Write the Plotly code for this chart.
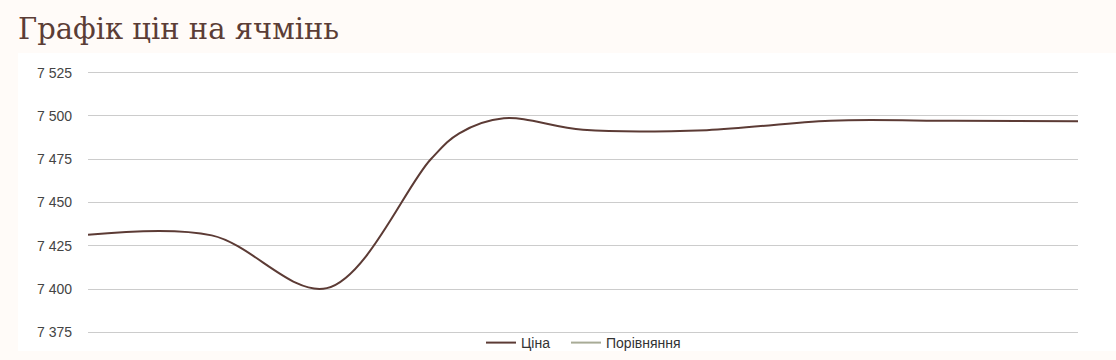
import plotly.graph_objects as go

# Data: price (x = time position, unitless)
x_steps = [0, 1, 1.93, 2.77, 3.0, 3.36, 4, 5, 6, 7, 8]
price = [7431.3, 7431.0, 7400.5, 7475, 7490, 7498.7, 7492, 7491.8, 7497.3, 7497.2, 7497]
compare = [None] * len(x_steps)
y_ticks = [7375, 7400, 7425, 7450, 7475, 7500, 7525]

title_text = "Графік цін на ячмінь"
series_names = ["Ціна", "Порівняння"]

W, H = 1116, 360
L, R, T, B = 88, 38, 71, 26
pw = W - L - R
ph = H - T - B

fig = go.Figure()
fig.add_trace(go.Scatter(
    x=x_steps, y=price, mode="lines", name=series_names[0],
    line=dict(color="#5C3B35", width=2, shape="spline", smoothing=1.0),
    legend="legend",
))
fig.add_trace(go.Scatter(
    x=x_steps, y=compare, mode="lines", name=series_names[1],
    line=dict(color="#A8AB96", width=2),
    legend="legend2",
))

# white panel behind chart
fig.add_shape(type="rect", xref="paper", yref="paper", layer="below",
              x0=(18 - L) / pw, x1=(W - L) / pw,
              y0=(H - 351 - B) / ph, y1=(H - 53 - B) / ph,
              fillcolor="#FFFFFF", line=dict(width=0))

legend_font = dict(family="Liberation Sans, Arial", size=14, color="#333333")
fig.update_layout(
    width=W, height=H,
    margin=dict(l=L, r=R, t=T, b=B, pad=0, autoexpand=False),
    paper_bgcolor="#FFFBF8",
    plot_bgcolor="#FFFFFF",
    separators=". ",
    title=dict(text=title_text, xref="container", yref="container",
               x=18 / W, xanchor="left", y=1 - 29 / H, yanchor="middle",
               font=dict(family="DejaVu Serif", size=29, color="#5B3D36")),
    showlegend=True,
    legend=dict(orientation="h", xref="container", x=(486 - 5) / W, xanchor="left",
                yref="container", y=1 - 343 / H, yanchor="middle",
                font=legend_font, bgcolor="rgba(0,0,0,0)"),
    legend2=dict(orientation="h", xref="container", x=(571 - 5) / W, xanchor="left",
                 yref="container", y=1 - 343 / H, yanchor="middle",
                 font=legend_font, bgcolor="rgba(0,0,0,0)"),
    font=dict(family="Liberation Sans, Arial", size=14, color="#444444"),
)
fig.update_xaxes(range=[x_steps[0], x_steps[-1]], showgrid=False, zeroline=False,
                 showticklabels=False, showline=False, ticks="")
fig.update_yaxes(range=[7374, 7526], tickvals=y_ticks, tickformat=",d",
                 showgrid=True, gridcolor="#CCCCCC", gridwidth=1,
                 zeroline=False, showline=False, ticks="", ticklabelstandoff=15,
                 tickfont=dict(family="Liberation Sans, Arial", size=14, color="#444444"))

fig.write_html("out.html")
